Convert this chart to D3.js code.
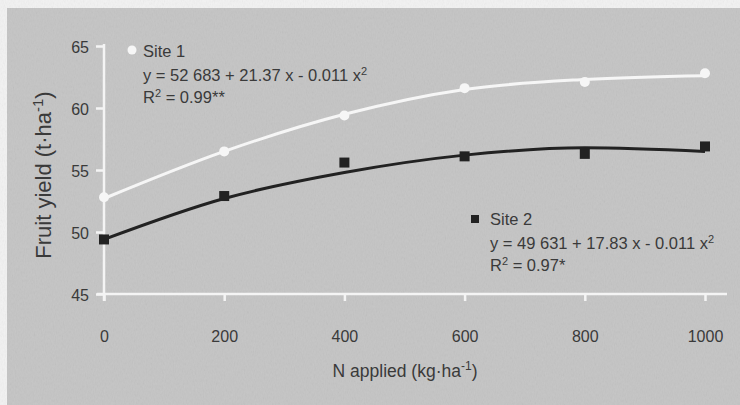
<!DOCTYPE html>
<html>
<head>
<meta charset="utf-8">
<script src="https://cdn.jsdelivr.net/npm/d3@7"></script>
<style>
  body { margin: 0; background: #f2f2f2; }
  svg text { font-family: "Liberation Sans", Arial, Helvetica, sans-serif; fill: #3a3a3a; }
</style>
</head>
<body>
<div id="chart"></div>
<script>
// N rates (kg/ha) and yields (t/ha)
let nApplied = [0, 200, 400, 600, 800, 1000];
let site1Yield = [52.8, 56.5, 59.4, 61.6, 62.1, 62.8];
let site2Yield = [49.4, 52.9, 55.6, 56.1, 56.3, 56.9];
// fitted curves as drawn in the figure
let site1Fit = [52.7, 56.5, 59.5, 61.5, 62.3, 62.6];
let site2Fit = [49.4, 52.7, 54.8, 56.2, 56.8, 56.5];
let xTicks = [0, 200, 400, 600, 800, 1000];
let yTicks = [45, 50, 55, 60, 65];

let margin = {top: 46, right: 35, bottom: 111, left: 104};
let width = 740 - margin.left - margin.right;
let height = 405 - margin.top - margin.bottom;

let root = d3.select("#chart").append("svg")
	.attr("width", 740)
	.attr("height", 405);

// scanned paper look
let defs = root.append("defs");
let noise = defs.append("filter").attr("id", "grain");
noise.append("feTurbulence")
	.attr("type", "fractalNoise")
	.attr("baseFrequency", "0.9 0.35")
	.attr("numOctaves", 2)
	.attr("seed", 4);
noise.append("feColorMatrix")
	.attr("type", "saturate")
	.attr("values", 0);

root.append("rect")
	.attr("x", 7).attr("y", 8)
	.attr("width", 733).attr("height", 397)
	.attr("fill", "#c4c4c4");
root.append("rect")
	.attr("x", 7).attr("y", 8)
	.attr("width", 733).attr("height", 397)
	.attr("filter", "url(#grain)")
	.attr("opacity", 0.12);

let svg = root.append("g")
	.attr("transform", "translate(" + margin.left + "," + margin.top + ")");

// Scales and axes
let x = d3.scaleLinear().domain([0, 1000]).range([0, width]);
let y = d3.scaleLinear().domain([45, 65]).range([height, 0]);

let xAxis = d3.axisBottom(x).tickValues(xTicks).tickFormat(d3.format("d")).tickSize(7).tickSizeOuter(0);
let yAxis = d3.axisLeft(y).tickValues(yTicks).tickSize(8).tickSizeOuter(0);

let gx = svg.append("g")
	.attr("class", "axis x-axis")
	.attr("transform", "translate(0," + height + ")")
	.call(xAxis);
let gy = svg.append("g")
	.attr("class", "axis y-axis")
	.call(yAxis);

[gx, gy].forEach(g => {
	g.select(".domain").remove();
	g.selectAll("line").attr("stroke", "#f4f4f4").attr("stroke-width", 2.5);
	g.selectAll("text").attr("font-size", 16).attr("fill", "#3a3a3a");
});
gx.selectAll("text").attr("y", 37);
gy.selectAll("text").attr("x", -15).attr("dy", "0.4em");

// axis lines, a little longer than the data range like the original
svg.append("line")
	.attr("x1", x(0) - 7).attr("x2", x(1000) + 22)
	.attr("y1", y(45)).attr("y2", y(45))
	.attr("stroke", "#f4f4f4").attr("stroke-width", 2.5);
svg.append("line")
	.attr("x1", x(0)).attr("x2", x(0))
	.attr("y1", y(65) - 2).attr("y2", y(45) + 7)
	.attr("stroke", "#f4f4f4").attr("stroke-width", 2.5);

// fitted curves
let line = d3.line()
	.x((d, i) => x(nApplied[i]))
	.y(d => y(d))
	.curve(d3.curveMonotoneX);

svg.append("path")
	.datum(site1Fit)
	.attr("d", line)
	.attr("fill", "none")
	.attr("stroke", "#f6f6f6")
	.attr("stroke-width", 3);

svg.append("path")
	.datum(site2Fit)
	.attr("d", line)
	.attr("fill", "none")
	.attr("stroke", "#222")
	.attr("stroke-width", 3);

// observed points
svg.selectAll(".site1")
	.data(site1Yield)
	.enter()
	.append("circle")
	.attr("class", "site1")
	.attr("cx", (d, i) => x(nApplied[i]))
	.attr("cy", d => y(d))
	.attr("r", 5)
	.attr("fill", "#f6f6f6");

svg.selectAll(".site2")
	.data(site2Yield)
	.enter()
	.append("rect")
	.attr("class", "site2")
	.attr("x", (d, i) => x(nApplied[i]) - 5)
	.attr("y", d => y(d) - 5)
	.attr("width", 10)
	.attr("height", 10)
	.attr("fill", "#222");

// legends with regression equations
function legend(gx0, gy0, name, a, b, r2) {
	let g = root.append("g").attr("transform", "translate(" + gx0 + "," + gy0 + ")");
	g.append("text").attr("x", 0).attr("y", 0).attr("font-size", 16.5).text(name);
	let eq = g.append("text").attr("x", 0).attr("y", 24).attr("font-size", 16.5);
	eq.append("tspan").text("y = " + a + " + " + b + " x - 0.011 x");
	eq.append("tspan").attr("font-size", 11).attr("dy", -6).text("2");
	let r = g.append("text").attr("x", 0).attr("y", 46).attr("font-size", 16.5);
	r.append("tspan").text("R");
	r.append("tspan").attr("font-size", 11).attr("dy", -6).text("2");
	r.append("tspan").attr("dy", 6).text(" = " + r2);
	return g;
}

let leg1 = legend(143, 57, "Site 1", "52 683", "21.37", "0.99**");
root.append("circle").attr("cx", 132).attr("cy", 50).attr("r", 4.5).attr("fill", "#f6f6f6");

let leg2 = legend(490, 225, "Site 2", "49 631", "17.83", "0.97*");
root.append("rect").attr("x", 471).attr("y", 215).attr("width", 8).attr("height", 8).attr("fill", "#222");

// axis titles
let xt = root.append("text")
	.attr("x", 405).attr("y", 377)
	.attr("text-anchor", "middle")
	.attr("font-size", 17.5);
xt.append("tspan").text("N applied (kg\u00b7ha");
xt.append("tspan").attr("font-size", 12).attr("dy", -7).text("-1");
xt.append("tspan").attr("dy", 7).text(")");

let yt = root.append("text")
	.attr("transform", "translate(51,175) rotate(-90)")
	.attr("text-anchor", "middle")
	.attr("font-size", 22);
yt.append("tspan").text("Fruit yield (t\u00b7ha");
yt.append("tspan").attr("font-size", 15).attr("dy", -8).text("-1");
yt.append("tspan").attr("dy", 8).text(")");
</script>
</body>
</html>
